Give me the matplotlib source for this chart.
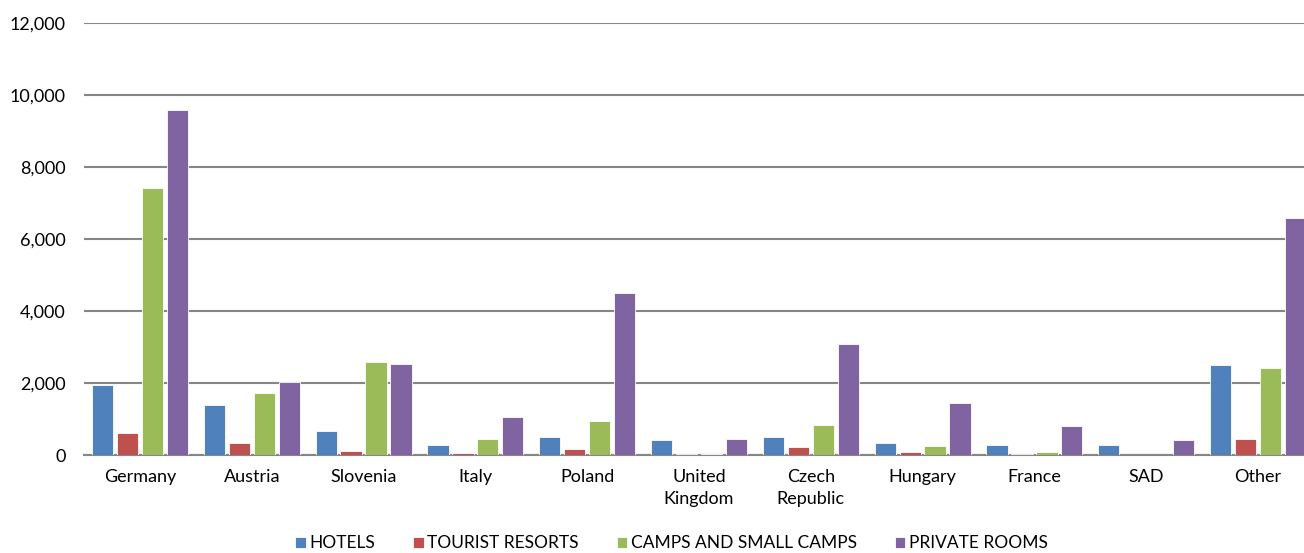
import numpy as np
import matplotlib
matplotlib.use("Agg")
import matplotlib.pyplot as plt
from matplotlib.ticker import FuncFormatter

countries = ["Germany", "Austria", "Slovenia", "Italy", "Poland", "United\nKingdom",
             "Czech\nRepublic", "Hungary", "France", "SAD", "Other"]
hotels = [1950, 1380, 660, 290, 490, 430, 490, 345, 290, 290, 2500]
tourist_resorts = [600, 345, 120, 55, 175, 35, 210, 95, 35, 10, 455]
camps = [7410, 1715, 2580, 455, 935, 40, 825, 260, 95, 10, 2410]
private_rooms = [9570, 2030, 2530, 1055, 4510, 455, 3085, 1445, 795, 405, 6575]

series = [("HOTELS", hotels, "#4F81BD"),
          ("TOURIST RESORTS", tourist_resorts, "#C0504D"),
          ("CAMPS AND SMALL CAMPS", camps, "#9BBB59"),
          ("PRIVATE ROOMS", private_rooms, "#8064A2")]

plt.rcParams['font.family'] = ['Lato', 'DejaVu Sans']

fig = plt.figure(figsize=(13.04, 5.53), dpi=100)
ax = fig.add_axes([84 / 1304, 1 - 455 / 553, 1230 / 1304, (455 - 23) / 553])

x = np.arange(len(countries))
pitch = 0.223
width = 0.19
for i, (name, vals, col) in enumerate(series):
    ax.bar(x + (i - 1.5) * pitch, vals, width, color=col, label=name,
           edgecolor="white", linewidth=0.6, zorder=3)

ax.set_xlim(-0.5, len(countries) - 0.5)
ax.set_ylim(0, 12000)
ax.set_yticks(np.arange(0, 12001, 2000))
ax.yaxis.set_major_formatter(FuncFormatter(lambda v, p: "{:,.0f}".format(v)))
ax.grid(axis="y", color="#868686", linewidth=1.5, zorder=0)
ax.set_xticks(x)
ax.set_xticklabels(countries, fontsize=13, linespacing=1.5)

for s in ["top", "left", "right"]:
    ax.spines[s].set_visible(False)
ax.spines["bottom"].set_color("#868686")
ax.spines["bottom"].set_linewidth(1.5)
ax.tick_params(axis="y", length=0, pad=13, labelsize=13)
ax.tick_params(axis="x", length=0, pad=10)

fig.legend(loc="lower center", bbox_to_anchor=(0.515, -0.025), ncol=4, frameon=False,
           fontsize=12.5, handlelength=0.6, handleheight=0.6, handletextpad=0.2,
           columnspacing=2.2)

fig.savefig("out.png", dpi=100)
